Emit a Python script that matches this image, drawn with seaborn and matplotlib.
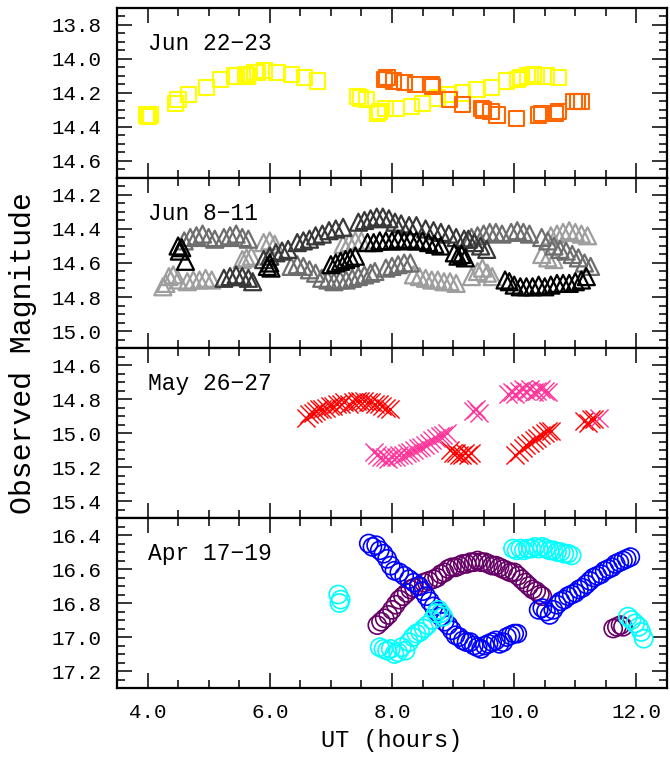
import numpy as np
import pandas as pd
import matplotlib
matplotlib.use("Agg")
import matplotlib.pyplot as plt
import seaborn as sns
from matplotlib.ticker import MultipleLocator, FormatStrFormatter

# ---------------- data ----------------
# Panel 1: Jun 22-23 (squares)
jun22_yellow_ut = [3.98, 4.02, 4.05, 4.46, 4.50, 4.67, 4.96, 5.20, 5.42, 5.46, 5.60, 5.64, 5.76, 5.80, 5.92,
                   6.12, 6.35, 6.57, 6.78, 7.44, 7.48, 7.58, 7.76, 7.80, 7.90, 8.08, 8.32, 8.50, 8.74, 8.92,
                   9.15, 9.39, 9.63, 9.87, 10.06, 10.10, 10.22, 10.31, 10.36, 10.52, 10.73]
jun22_yellow_mag = [14.33, 14.34, 14.33, 14.26, 14.24, 14.21, 14.17, 14.12, 14.10, 14.10, 14.09, 14.10, 14.08, 14.08, 14.07,
                    14.08, 14.09, 14.11, 14.13, 14.22, 14.23, 14.24, 14.32, 14.31, 14.29, 14.29, 14.28, 14.26, 14.23, 14.21,
                    14.20, 14.18, 14.17, 14.13, 14.12, 14.11, 14.10, 14.09, 14.10, 14.10, 14.11]
jun22_orange_ut = [7.88, 7.92, 8.02, 8.20, 8.38, 8.64, 8.66, 8.94, 9.15, 9.46, 9.50, 9.62, 9.72, 10.04, 10.40, 10.45,
                   10.68, 10.72, 10.98, 11.04, 11.10]
jun22_orange_mag = [14.12, 14.11, 14.13, 14.14, 14.15, 14.15, 14.16, 14.24, 14.27, 14.29, 14.30, 14.31, 14.33, 14.35, 14.33, 14.32,
                    14.32, 14.31, 14.25, 14.25, 14.25]

# Panel 2: Jun 8-11 (triangles, four nights in grey shades)
jun8_black_ut = [4.50, 4.52, 4.56, 4.62, 5.96, 6.00, 6.02, 7.00, 7.08, 7.16, 7.24, 7.32, 7.40,
                 7.60, 7.70, 7.80, 7.90, 8.00, 8.10, 8.20, 8.30, 8.40, 8.50, 8.60, 8.70, 8.80,
                 9.02, 9.08, 9.14, 9.20, 9.85, 9.92, 10.00, 10.10, 10.20, 10.30, 10.40, 10.50, 10.60,
                 10.70, 10.80, 10.90, 11.00, 11.10, 11.18]
jun8_black_mag = [14.50, 14.53, 14.51, 14.59, 14.62, 14.60, 14.63, 14.61, 14.60, 14.59, 14.58, 14.57, 14.56,
                  14.48, 14.48, 14.47, 14.47, 14.47, 14.46, 14.47, 14.46, 14.47, 14.47, 14.48, 14.49, 14.50,
                  14.54, 14.56, 14.55, 14.57, 14.70, 14.71, 14.73, 14.74, 14.74, 14.74, 14.73, 14.74, 14.73,
                  14.72, 14.72, 14.72, 14.71, 14.70, 14.68]
jun8_dark_ut = [5.25, 5.35, 5.45, 5.55, 5.65, 5.72, 5.90, 6.00, 6.10, 6.20, 6.30,
                6.45, 6.55, 6.65, 6.75, 6.86, 6.97, 7.08, 7.20, 7.45, 7.55, 7.65, 7.75, 7.85, 7.95,
                8.05, 8.15, 8.28, 8.40, 8.55, 8.68, 8.80, 8.93, 9.05, 9.18, 9.25, 9.35, 9.45, 9.55]
jun8_dark_mag = [14.69, 14.68, 14.67, 14.68, 14.69, 14.71, 14.58, 14.56, 14.54, 14.53, 14.52,
                 14.48, 14.47, 14.46, 14.44, 14.43, 14.41, 14.40, 14.39, 14.36, 14.35, 14.34, 14.33, 14.33, 14.34,
                 14.36, 14.37, 14.38, 14.38, 14.40, 14.41, 14.42, 14.43, 14.45, 14.46, 14.46, 14.48, 14.50, 14.52]
jun8_mid_ut = [4.60, 4.70, 4.80, 4.90, 5.00, 5.10, 5.25, 5.35, 5.45, 5.55, 5.65,
               6.35, 6.45, 6.55, 6.65, 6.75, 6.85, 6.95, 7.05, 7.15, 7.25, 7.35, 7.45, 7.55, 7.65, 7.72,
               7.90, 8.00, 8.10, 8.20, 8.30, 9.30, 9.40, 9.50, 9.60, 9.70, 9.80, 9.95, 10.05, 10.15, 10.25,
               10.45, 10.55, 10.65, 10.75, 10.85, 10.95, 11.05, 11.15, 11.25]
jun8_mid_mag = [14.47, 14.45, 14.44, 14.43, 14.45, 14.46, 14.45, 14.44, 14.43, 14.45, 14.46,
                14.62, 14.61, 14.62, 14.64, 14.66, 14.69, 14.70, 14.71, 14.70, 14.70, 14.69, 14.68, 14.67, 14.66, 14.65,
                14.63, 14.62, 14.61, 14.60, 14.60, 14.45, 14.44, 14.43, 14.42, 14.42, 14.43, 14.42, 14.41, 14.42, 14.43,
                14.45, 14.47, 14.50, 14.52, 14.53, 14.55, 14.57, 14.60, 14.62]
jun8_light_ut = [4.25, 4.30, 4.35, 4.42, 4.50, 4.65, 4.75, 4.85, 4.95, 5.05, 5.55, 5.62, 5.70,
                 5.90, 6.00, 6.08, 7.20, 7.30, 7.40, 7.50, 8.35, 8.45, 8.55, 8.65, 8.75, 8.85, 8.95, 9.05,
                 9.30, 9.40, 9.48, 9.56, 9.64, 10.45, 10.55, 10.65, 10.60, 10.70, 10.80, 10.90, 11.00, 11.10, 11.20]
jun8_light_mag = [14.74, 14.72, 14.68, 14.67, 14.70, 14.71, 14.70, 14.70, 14.69, 14.70, 14.58, 14.57, 14.56,
                  14.48, 14.47, 14.49, 14.49, 14.48, 14.47, 14.47, 14.67, 14.68, 14.69, 14.70, 14.70, 14.71, 14.71, 14.72,
                  14.68, 14.65, 14.63, 14.66, 14.68, 14.55, 14.57, 14.58, 14.44, 14.43, 14.42, 14.41, 14.42, 14.43, 14.44]

# Panel 3: May 26-27 (crosses)
may26_red_ut = [6.60, 6.65, 6.70, 6.75, 6.80, 6.86, 6.92, 6.98, 7.04, 7.10, 7.16, 7.22, 7.30, 7.36, 7.42, 7.48,
                7.54, 7.60, 7.66, 7.72, 7.78, 7.84, 7.90, 7.96, 8.95, 9.00, 9.05, 9.10, 9.15, 9.20, 9.25, 9.30,
                10.02, 10.08, 10.14, 10.20, 10.26, 10.32, 10.38, 10.44, 10.50, 10.56, 10.60, 11.15, 11.20, 11.25, 11.30]
may26_red_mag = [14.91, 14.89, 14.88, 14.87, 14.86, 14.86, 14.85, 14.84, 14.84, 14.83, 14.83, 14.82, 14.83, 14.82, 14.81, 14.81,
                 14.81, 14.82, 14.82, 14.83, 14.83, 14.84, 14.85, 14.86, 15.10, 15.12, 15.12, 15.13, 15.13, 15.12, 15.13, 15.12,
                 15.13, 15.11, 15.09, 15.07, 15.06, 15.04, 15.03, 15.01, 15.00, 14.99, 14.99, 14.93, 14.94, 14.92, 14.92]
may26_pink_ut = [7.70, 7.76, 7.82, 7.88, 7.94, 8.00, 8.06, 8.12, 8.18, 8.24, 8.30, 8.36, 8.42, 8.48, 8.54, 8.60,
                 8.66, 8.72, 8.78, 8.84, 8.90, 9.32, 9.38, 9.42, 9.90, 9.96, 10.02, 10.08, 10.14, 10.20, 10.26,
                 10.32, 10.38, 10.44, 10.50, 10.55, 11.38]
may26_pink_mag = [15.11, 15.13, 15.14, 15.14, 15.15, 15.14, 15.14, 15.13, 15.13, 15.12, 15.11, 15.10, 15.09, 15.08, 15.07, 15.06,
                  15.04, 15.03, 15.02, 15.01, 15.00, 14.87, 14.86, 14.88, 14.77, 14.76, 14.77, 14.75, 14.74, 14.75, 14.74,
                  14.76, 14.75, 14.74, 14.75, 14.76, 14.91]

# Panel 4: Apr 17-19 (circles)
apr17_blue_ut = [7.62, 7.68, 7.74, 7.80, 7.86, 7.92, 7.98, 8.04, 8.12, 8.20, 8.28, 8.36, 8.44, 8.50, 8.56, 8.62,
                 8.68, 8.74, 8.80, 8.86, 8.92, 8.98, 9.04, 9.10, 9.16, 9.22, 9.28, 9.34, 9.40, 9.46, 9.52, 9.58,
                 9.64, 9.70, 9.76, 9.82, 9.88, 9.94, 10.00, 10.05, 10.40, 10.46, 10.52, 10.58, 10.64, 10.70, 10.76,
                 10.82, 10.88, 10.94, 11.00, 11.06, 11.12, 11.18, 11.24, 11.30, 11.36, 11.42, 11.48, 11.54, 11.60,
                 11.66, 11.72, 11.78, 11.84, 11.90]
apr17_blue_mag = [16.45, 16.47, 16.46, 16.49, 16.51, 16.54, 16.58, 16.61, 16.62, 16.64, 16.66, 16.68, 16.70, 16.73, 16.76, 16.79,
                  16.82, 16.85, 16.88, 16.91, 16.93, 16.96, 16.99, 17.00, 17.02, 17.03, 17.03, 17.05, 17.06, 17.07, 17.05, 17.04,
                  17.03, 17.02, 17.04, 17.03, 17.00, 16.99, 16.98, 16.98, 16.84, 16.83, 16.85, 16.87, 16.84, 16.81, 16.79,
                  16.78, 16.76, 16.75, 16.74, 16.72, 16.71, 16.69, 16.67, 16.65, 16.64, 16.63, 16.61, 16.60, 16.59,
                  16.57, 16.56, 16.55, 16.54, 16.53]
apr17_cyan_ut = [7.12, 7.16, 7.14, 7.80, 7.86, 7.92, 7.98, 8.04, 8.10, 8.16, 8.22, 8.28, 8.34, 8.40, 8.46, 8.52,
                 8.58, 8.66, 8.72, 8.76, 8.80, 8.84, 9.98, 10.04, 10.10, 10.16, 10.22, 10.28, 10.34, 10.40, 10.46,
                 10.52, 10.58, 10.64, 10.70, 10.76, 10.82, 10.88, 10.94, 11.86, 11.92, 11.98, 12.04, 12.08, 12.12]
apr17_cyan_mag = [16.75, 16.78, 16.80, 17.06, 17.07, 17.08, 17.07, 17.10, 17.09, 17.06, 17.08, 17.03, 17.00, 16.98, 16.97, 16.95,
                  16.93, 16.90, 16.86, 16.84, 16.86, 16.88, 16.48, 16.49, 16.48, 16.49, 16.48, 16.48, 16.47, 16.48, 16.47,
                  16.48, 16.49, 16.49, 16.50, 16.50, 16.51, 16.51, 16.52, 16.88, 16.90, 16.92, 16.94, 16.97, 17.01]
apr17_purple_ut = [7.76, 7.82, 7.88, 7.94, 8.00, 8.06, 8.12, 8.18, 8.24, 8.30, 8.36, 8.44, 8.52, 8.60, 8.68, 8.74,
                   8.80, 8.86, 8.92, 8.98, 9.04, 9.10, 9.16, 9.22, 9.28, 9.34, 9.40, 9.46, 9.52, 9.58, 9.64, 9.70,
                   9.76, 9.82, 9.88, 9.94, 10.00, 10.06, 10.12, 10.18, 10.24, 10.30, 10.36, 10.42, 10.46,
                   11.62, 11.68, 11.74, 11.78]
apr17_purple_mag = [16.93, 16.91, 16.89, 16.87, 16.84, 16.81, 16.78, 16.76, 16.74, 16.72, 16.71, 16.70, 16.68, 16.67, 16.66, 16.65,
                    16.63, 16.62, 16.60, 16.59, 16.59, 16.58, 16.57, 16.57, 16.56, 16.56, 16.55, 16.56, 16.56, 16.57, 16.58, 16.58,
                    16.59, 16.60, 16.61, 16.62, 16.62, 16.64, 16.66, 16.68, 16.70, 16.72, 16.73, 16.75, 16.76,
                    16.95, 16.94, 16.93, 16.94]

panel_labels = ["Jun 22\u221223", "Jun 8\u221211", "May 26\u221227", "Apr 17\u221219"]
panel_ylims = [(13.7, 14.7), (14.1, 15.1), (14.5, 15.5), (16.3, 17.3)]
x_limits = (3.5, 12.5)

# ---------------- plotting ----------------
sns.set_theme(style="ticks")
plt.rcParams["font.family"] = ["Liberation Mono", "DejaVu Sans Mono", "DejaVu Sans"]
for k in ("text.color", "axes.labelcolor", "xtick.color", "ytick.color", "axes.edgecolor"):
    plt.rcParams[k] = "black"

fig, axes = plt.subplots(4, 1, figsize=(6.7, 7.6), dpi=100, sharex=True)
fig.subplots_adjust(left=0.1746, right=0.9955, bottom=0.0947, top=0.9895, hspace=0)


def hollow(ax, x, y, color, marker, s, lw):
    n0 = len(ax.collections)
    sns.scatterplot(x=x, y=y, ax=ax, color=color, marker=marker, s=s, linewidth=lw, legend=False)
    for coll in ax.collections[n0:]:
        coll.set_edgecolor(color)
        if marker not in ("x", "+"):
            coll.set_facecolor("none")
        coll.set_linewidth(lw)


ax = axes[0]
hollow(ax, jun22_yellow_ut, jun22_yellow_mag, "#FFFF00", "s", 120, 1.5)
hollow(ax, jun22_orange_ut, jun22_orange_mag, "#FF6600", "s", 120, 1.5)

ax = axes[1]
hollow(ax, jun8_light_ut, jun8_light_mag, "#9e9e9e", "^", 150, 1.6)
hollow(ax, jun8_mid_ut, jun8_mid_mag, "#6e6e6e", "^", 150, 1.6)
hollow(ax, jun8_dark_ut, jun8_dark_mag, "#383838", "^", 150, 1.6)
hollow(ax, jun8_black_ut, jun8_black_mag, "#000000", "^", 150, 1.6)

ax = axes[2]
hollow(ax, may26_red_ut, may26_red_mag, "#FF0000", "x", 170, 1.0)
hollow(ax, may26_pink_ut, may26_pink_mag, "#FF3399", "x", 170, 1.0)

ax = axes[3]
hollow(ax, apr17_purple_ut, apr17_purple_mag, "#660066", "o", 170, 1.2)
hollow(ax, apr17_blue_ut, apr17_blue_mag, "#0000FF", "o", 170, 1.2)
hollow(ax, apr17_cyan_ut, apr17_cyan_mag, "#00FFFF", "o", 170, 1.2)

for ax, lab, (lo, hi) in zip(axes, panel_labels, panel_ylims):
    ax.set_xlim(*x_limits)
    ax.set_ylim(hi, lo)
    ax.yaxis.set_major_locator(MultipleLocator(0.2))
    ax.yaxis.set_minor_locator(MultipleLocator(0.05))
    ax.yaxis.set_major_formatter(FormatStrFormatter("%.1f"))
    ax.xaxis.set_major_locator(MultipleLocator(2.0))
    ax.xaxis.set_minor_locator(MultipleLocator(0.5))
    ax.xaxis.set_major_formatter(FormatStrFormatter("%.1f"))
    ax.tick_params(which="both", direction="in", top=True, right=True, width=1.1, color="black")
    ax.tick_params(which="major", length=11, labelsize=15, pad=11)
    ax.tick_params(which="minor", length=6)
    for sp in ax.spines.values():
        sp.set_visible(True)
        sp.set_linewidth(1.6)
        sp.set_color("black")
    ax.set_xlabel("")
    ax.set_ylabel("")
    ax.text(0.057, 0.79, lab, transform=ax.transAxes, fontsize=16.5, va="center", ha="left")

axes[-1].set_xlabel("UT (hours)", fontsize=17, labelpad=5)
fig.text(0.034, 0.535, "Observed Magnitude", rotation=90, fontsize=21.5, va="center", ha="center")

fig.savefig("out.png", dpi=100)
